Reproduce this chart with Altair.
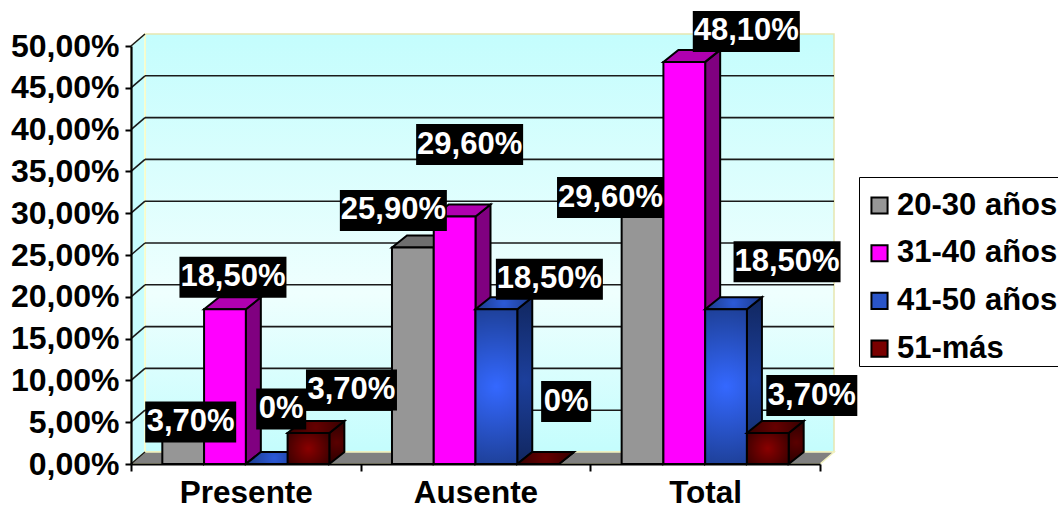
import json
import altair as alt
import pandas as pd

# Chart values
CATEGORIES = ["Presente", "Ausente", "Total"]
SERIES = ["20-30 años", "31-40 años", "41-50 años", "51-más"]
VALUES = {
    "20-30 años": [3.7, 25.9, 29.6],
    "31-40 años": [18.5, 29.6, 48.1],
    "41-50 años": [0, 18.5, 18.5],
    "51-más": [3.7, 0, 3.7],
}
Y_TICKS = [0, 5, 10, 15, 20, 25, 30, 35, 40, 45, 50]

# Layout of the drawing, in pixels
PLOT_W, PLOT_H = 689, 418
PAD = {"left": 131, "top": 46, "right": 238, "bottom": 46}
PX_X = PLOT_W / len(CATEGORIES)
PX_Y = PLOT_H / 50
WALL_DX, WALL_DY = 14 / PX_X, 12 / PX_Y
BAR_DX, BAR_DY = 15 / PX_X, 12 / PX_Y
BAR_W = 1 / 5.5
GAP = (1 - 4 * BAR_W) / 2
FONT = "Liberation Sans"
AXIS_SIZE = 32
CATEGORY_SIZE = 31.5
LABEL_SIZE = 31
LEGEND_SIZE = 31

# Hand-placed offset of each value label from the top centre of its bar
LABEL_SHIFTS = {
    "20-30 años": [(7.5, -11), (-19.5, -37), (-32, -19)],
    "31-40 años": [(8, -32), (15, -72), (62, -30.5)],
    "41-50 años": [(14.5, -55), (53, -30), (61, -47.5)],
    "51-más": [(43, -43), (28, -62.5), (44, -37.5)],
}
BOX_WIDTH = {6: 107, 5: 91, 2: 50}
BOX_HEIGHT = 41


def rect_gradient(inner, outer):
    return alt.RadialGradient(
        gradient="radial", x1=0.5, y1=0.5, r1=0, x2=0.5, y2=0.5, r2=0.72,
        stops=[alt.GradientStop(color=inner, offset=0),
               alt.GradientStop(color=outer, offset=1)],
    )


FRONT = {
    "20-30 años": "#969696",
    "31-40 años": "#ff00ff",
    "41-50 años": rect_gradient("#3468ff", "#15306f"),
    "51-más": rect_gradient("#8a0000", "#2a0000"),
}
TOP = {
    "20-30 años": "#6e6e6e",
    "31-40 años": "#b000b0",
    "41-50 años": rect_gradient("#2c5ad8", "#142c66"),
    "51-más": rect_gradient("#660000", "#200000"),
}
SIDE = {
    "20-30 años": "#5c5c5c",
    "31-40 años": "#800080",
    "41-50 años": rect_gradient("#1c3f9c", "#0c1c44"),
    "51-más": rect_gradient("#5a0000", "#180000"),
}
LEGEND_COLORS = ["#969696", "#ff00ff", "#2a55c8", "#7a0000"]

x_scale = alt.Scale(domain=[0, len(CATEGORIES)], nice=False, zero=False)
y_scale = alt.Scale(domain=[0, 50], nice=False, zero=False)


def X(field="x"):
    return alt.X(f"{field}:Q", scale=x_scale, title=None)


def Y(field="y"):
    return alt.Y(f"{field}:Q", scale=y_scale, title=None, stack=None)


def Y2(field="y2"):
    return alt.Y2(f"{field}:Q")


def area(rows, **mark):
    return alt.Chart(pd.DataFrame(rows)).mark_area(
        orient="vertical", interpolate="linear", **mark
    ).encode(x=X(), y=Y(), y2=Y2(), detail="k:N")


n = len(CATEGORIES)
left, right = WALL_DX, n + WALL_DX

# Back wall, side wall and floor
wall_fill = alt.LinearGradient(
    gradient="linear", x1=0, y1=0, x2=0, y2=1,
    stops=[alt.GradientStop(color="#c4fdfd", offset=0),
           alt.GradientStop(color="#effffe", offset=0.62),
           alt.GradientStop(color="#c4fdfd", offset=1)],
)
back_wall = area(
    [{"k": "w", "x": left, "y": WALL_DY, "y2": 50 + WALL_DY},
     {"k": "w", "x": right, "y": WALL_DY, "y2": 50 + WALL_DY}],
    fill=wall_fill, stroke="#e6e6b0", strokeWidth=1.5,
)
side_wall = area(
    [{"k": "s", "x": 0, "y": 0, "y2": 50},
     {"k": "s", "x": WALL_DX, "y": WALL_DY, "y2": 50 + WALL_DY}],
    fill="#c8fdfd", stroke="#ffffcc", strokeWidth=1.5,
)
floor = area(
    [{"k": "f", "x": 0, "y": 0, "y2": 0},
     {"k": "f", "x": WALL_DX, "y": 0, "y2": WALL_DY},
     {"k": "f", "x": n, "y": 0, "y2": WALL_DY},
     {"k": "f", "x": right, "y": WALL_DY, "y2": WALL_DY}],
    fill="#808080", stroke="#f2f2c0", strokeWidth=1.5,
)

# Gridlines across the back wall and their slanted run over the side wall
grid_df = pd.DataFrame(
    [{"x": left, "x2": right, "y": t + WALL_DY} for t in Y_TICKS if 0 < t < 50]
)
grid = alt.Chart(grid_df).mark_rule(color="#1a1a1a", strokeWidth=1.6).encode(
    x=X(), x2=alt.X2("x2:Q"), y=Y()
)
slant_df = pd.DataFrame(
    [{"t": t, "x": 0, "y": t} for t in Y_TICKS]
    + [{"t": t, "x": WALL_DX, "y": t + WALL_DY} for t in Y_TICKS]
)
slants = alt.Chart(slant_df).mark_line(color="#1a1a1a", strokeWidth=1.6).encode(
    x=X(), y=Y(), detail="t:N"
)

# Axes belong to the first layer, whose own points stay invisible
axis_df = pd.DataFrame({"x": [0, n], "y": [0, 50]})
axes = alt.Chart(axis_df).mark_point(opacity=0).encode(
    x=alt.X("x:Q", scale=x_scale, title=None, axis=alt.Axis(
        values=list(range(n + 1)), labelOffset=PX_X / 2, zindex=1,
        labelExpr=f"{json.dumps(CATEGORIES)}[datum.value] || ''",
        labelFont=FONT, labelFontSize=CATEGORY_SIZE, labelFontWeight="bold",
        labelColor="black", labelPadding=6, labelFlush=False, labelOverlap=False,
        domainColor="black", domainWidth=2.2, tickColor="black", tickWidth=2,
        tickSize=7, grid=False,
    )),
    y=alt.Y("y:Q", scale=y_scale, title=None, axis=alt.Axis(
        values=Y_TICKS, zindex=1,
        labelExpr="replace(format(datum.value, '.2f'), '.', ',') + '%'",
        labelFont=FONT, labelFontSize=AXIS_SIZE, labelFontWeight="bold",
        labelColor="black", labelPadding=6, labelOverlap=False, labelFlush=False,
        domainColor="black", domainWidth=2.2, tickColor="black", tickWidth=2,
        tickSize=6, grid=False,
    )),
)

# Flat bars that carry the colour legend; the shaded faces are drawn on top
rows = []
for si, s in enumerate(SERIES):
    for ci, c in enumerate(CATEGORIES):
        x0 = ci + GAP + si * BAR_W
        rows.append({"cat": c, "serie": s, "x": x0, "x2": x0 + BAR_W,
                     "y": 0, "y2": VALUES[s][ci]})
bars_df = pd.DataFrame(rows)

base_bars = alt.Chart(bars_df).mark_bar().encode(
    x=X(), x2=alt.X2("x2:Q"), y=Y(), y2=Y2(),
    color=alt.Color("serie:N", sort=SERIES, scale=alt.Scale(domain=SERIES, range=LEGEND_COLORS),
                    legend=alt.Legend(
                        title="\u00a0", titleFontSize=5, titlePadding=6,
                        orient="none", legendX=728, legendY=131,
                        strokeColor="black", padding=2, symbolType="square",
                        symbolSize=260, symbolStrokeColor="black", symbolStrokeWidth=2,
                        symbolOffset=3,
                        labelFont=FONT, labelFontSize=LEGEND_SIZE, labelFontWeight="bold",
                        labelColor="black", labelLimit=400, labelOffset=2, rowPadding=15.7,
                    )),
)

# One set of three faces per series, drawn left to right so later bars overlap
faces = []
for s in SERIES:
    d = bars_df[bars_df.serie == s]
    side_rows, top_rows = [], []
    for r in d.itertuples():
        v = r.y2
        side_rows += [{"k": r.cat, "x": r.x2, "y": 0, "y2": v},
                      {"k": r.cat, "x": r.x2 + BAR_DX, "y": BAR_DY, "y2": v + BAR_DY}]
        top_rows += [{"k": r.cat, "x": r.x, "y": v, "y2": v},
                     {"k": r.cat, "x": r.x + BAR_DX, "y": v, "y2": v + BAR_DY},
                     {"k": r.cat, "x": r.x2, "y": v, "y2": v + BAR_DY},
                     {"k": r.cat, "x": r.x2 + BAR_DX, "y": v + BAR_DY, "y2": v + BAR_DY}]
    faces.append(area(side_rows, fill=SIDE[s], stroke="black", strokeWidth=2))
    faces.append(area(top_rows, fill=TOP[s], stroke="black", strokeWidth=2))
    faces.append(alt.Chart(d).mark_bar(fill=FRONT[s], stroke="black", strokeWidth=2).encode(
        x=X(), x2=alt.X2("x2:Q"), y=Y(), y2=Y2(),
    ))

# Value labels: white text on black boxes
label_rows = []
for si, s in enumerate(SERIES):
    for ci, v in enumerate(VALUES[s]):
        text = f"{v:.2f}".replace(".", ",") + "%" if v else "0%"
        sx, sy = LABEL_SHIFTS[s][ci]
        cx = ci + GAP + (si + 0.5) * BAR_W + sx / PX_X
        cy = v - sy / PX_Y
        hw = BOX_WIDTH[len(text)] / 2 / PX_X
        hh = BOX_HEIGHT / 2 / PX_Y
        label_rows.append({"text": text, "x": cx, "x0": cx - hw, "x1": cx + hw,
                           "y": cy, "y0": cy - hh, "y1": cy + hh})
labels_df = pd.DataFrame(label_rows)

boxes = alt.Chart(labels_df).mark_rect(color="black").encode(
    x=X("x0"), x2=alt.X2("x1:Q"), y=Y("y0"), y2=Y2("y1"),
)
texts = alt.Chart(labels_df).mark_text(
    font=FONT, fontSize=LABEL_SIZE, fontWeight="bold", color="white",
    align="center", baseline="middle",
).encode(x=X(), y=Y(), text="text:N")

chart = alt.layer(
    axes, back_wall, side_wall, floor, grid, slants, base_bars, *faces, boxes, texts
).resolve_scale(x="shared", y="shared").properties(
    width=PLOT_W, height=PLOT_H,
    padding=PAD,
    autosize=alt.AutoSizeParams(type="none"),
    background="white",
).configure_view(stroke=None)

chart.save("out.html", embed_options={"renderer": "svg", "actions": False})
